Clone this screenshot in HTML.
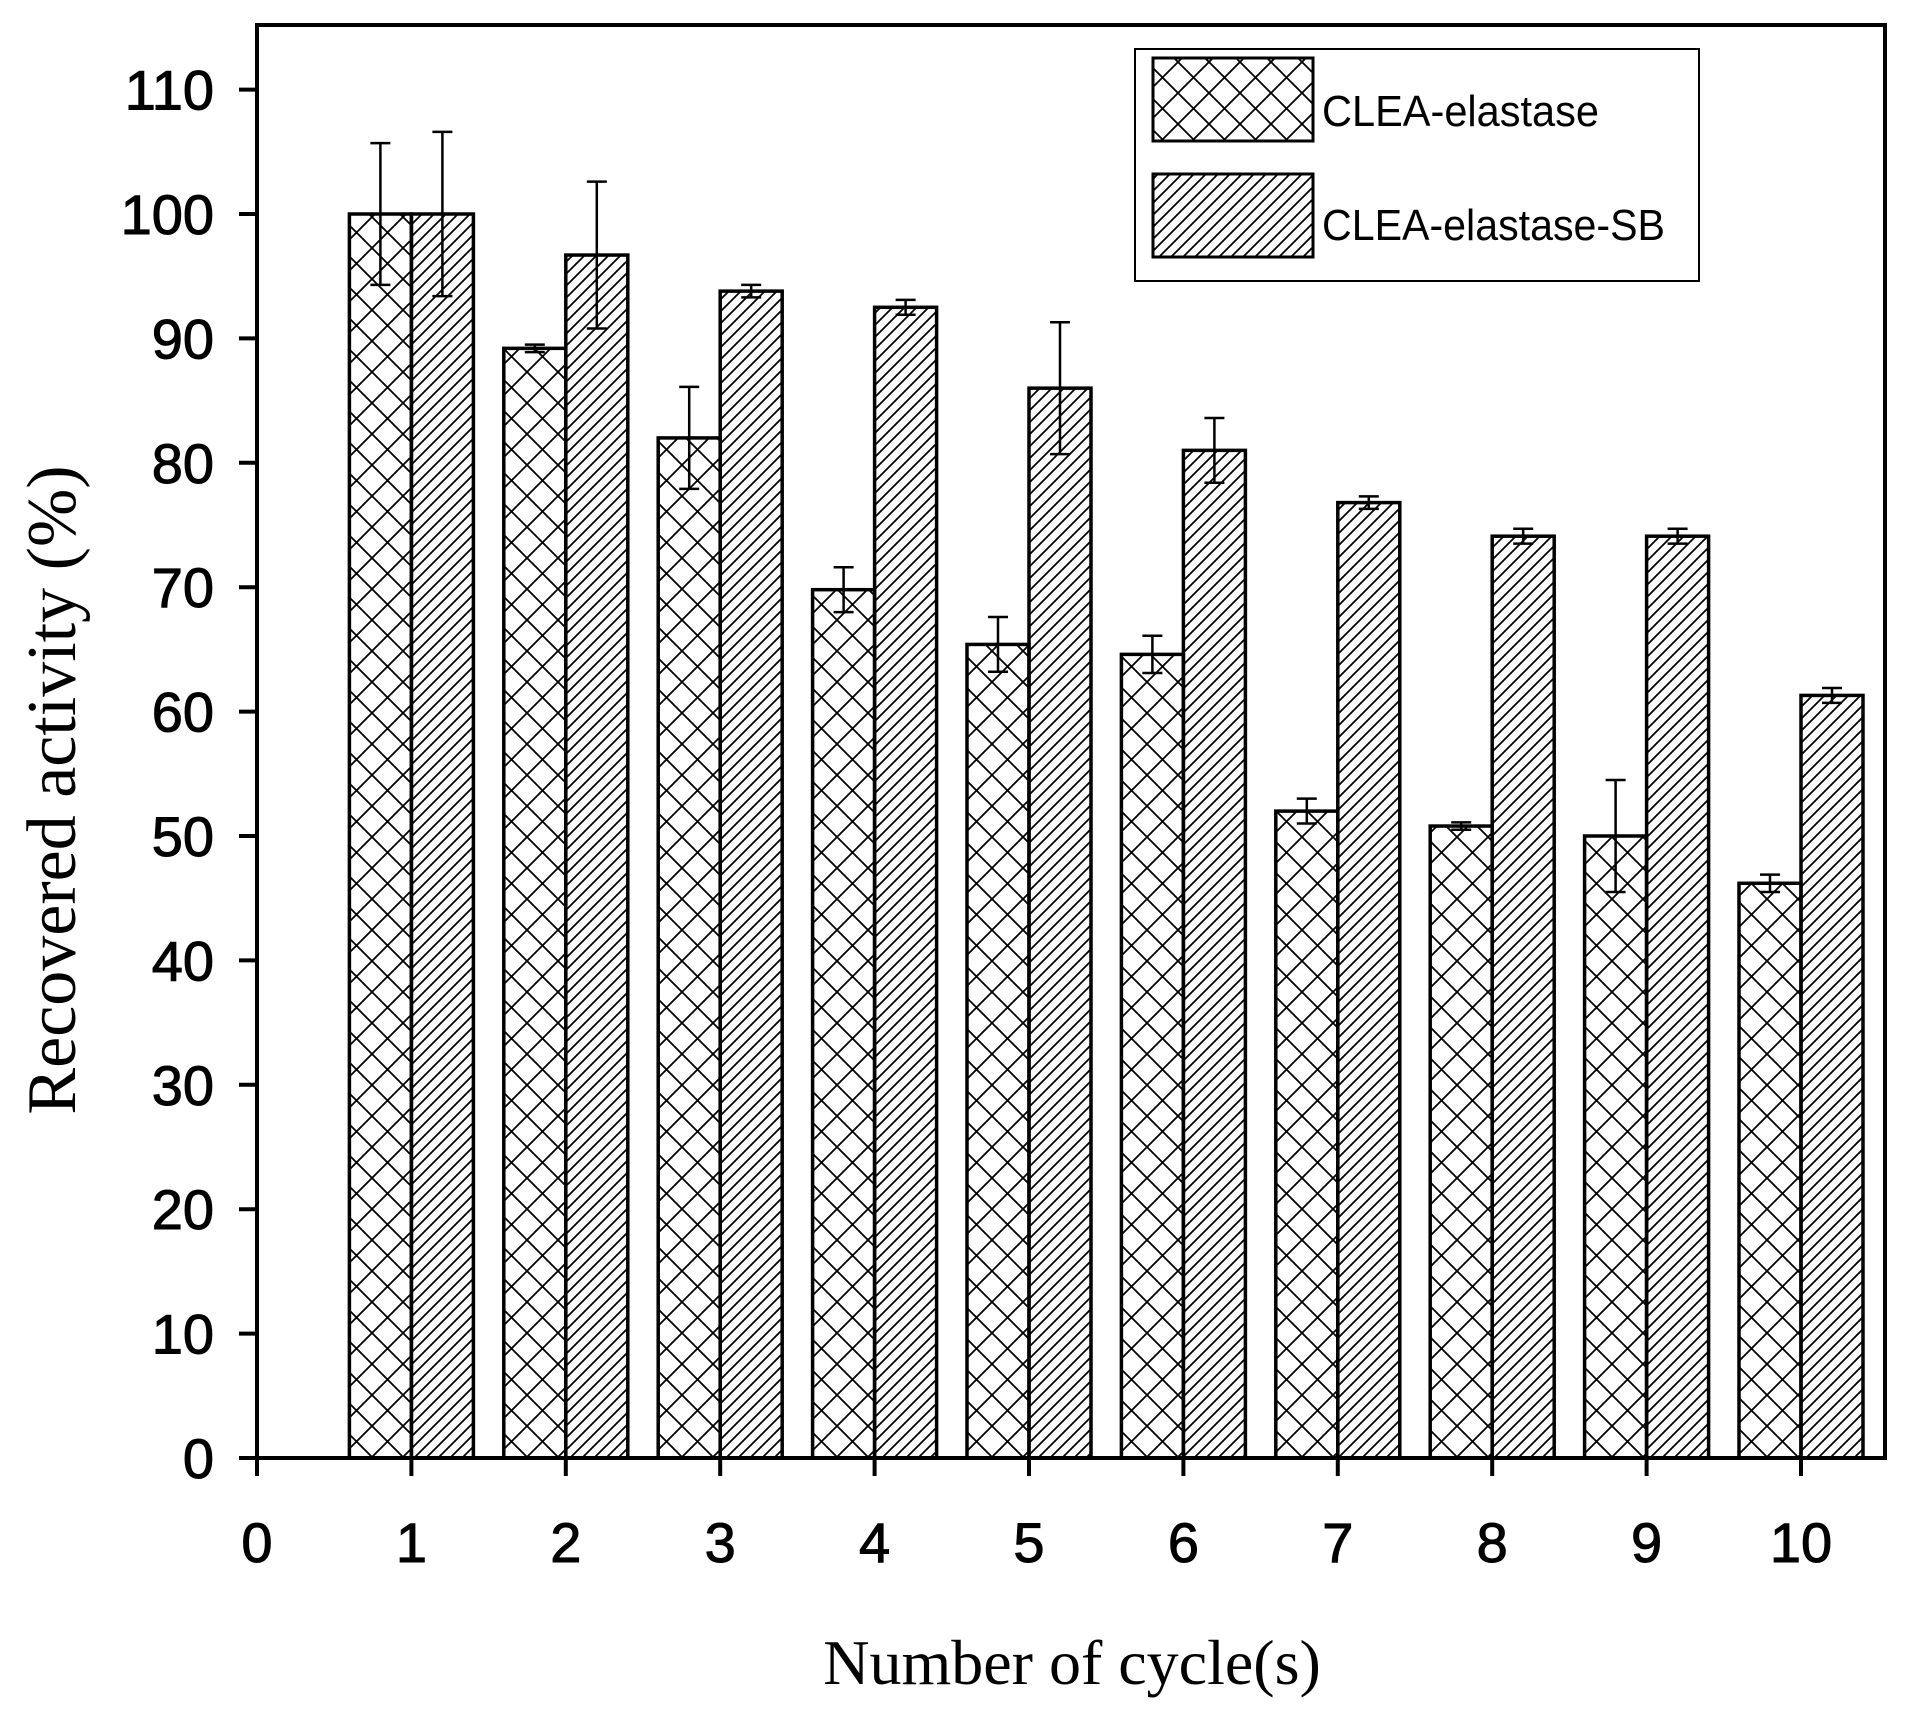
<!DOCTYPE html>
<html><head><meta charset="utf-8"><style>body{margin:0;background:#fff}svg{display:block}</style></head>
<body>
<svg id="s" width="1912" height="1711" xmlns="http://www.w3.org/2000/svg">
<defs>
<pattern id="cross" patternUnits="userSpaceOnUse" width="31" height="31">
<path d="M0,0L31,31M31,0L0,31" stroke="#000" stroke-width="1.8" fill="none"/>
</pattern>
<pattern id="hatch" patternUnits="userSpaceOnUse" width="12" height="12">
<path d="M-3,3L3,-3M0,12L12,0M9,15L15,9" stroke="#000" stroke-width="1.8" fill="none"/>
</pattern>
</defs>
<g id="g"></g>
</svg>
<script>
const g=document.getElementById('g');let h='';
const L=257,R=1885,T=25,Y0=1458,per=12.44,xu=154.4;
const y=v=>Y0-v*per, x=c=>L+c*xu;
const d=[[100,5.7,100,6.6],[89.2,0.3,96.7,5.9],[82,4.1,93.8,0.5],[69.8,1.8,92.5,0.6],[65.4,2.2,86,5.3],[64.6,1.5,81,2.6],[52,1,76.8,0.5],[50.8,0.3,74.1,0.6],[50,4.5,74.1,0.6],[46.2,0.7,61.3,0.6]];
d.forEach((r,i)=>{const cx=x(i+1),w=62;
[[cx-w,r[0],r[1],'cross'],[cx,r[2],r[3],'hatch']].forEach(([bx,v,e,p])=>{
h+=`<rect x="${bx}" y="${y(v)}" width="${w}" height="${Y0-y(v)}" fill="url(#${p})" stroke="#000" stroke-width="3.5"/>`;
const m=bx+w/2;h+=`<path d="M${m},${y(v+e)}V${y(v-e)}M${m-10},${y(v+e)}H${m+10}M${m-10},${y(v-e)}H${m+10}" stroke="#000" stroke-width="2.5" fill="none"/>`;});});
h+=`<rect x="${L}" y="${T}" width="${R-L}" height="${Y0-T}" fill="none" stroke="#000" stroke-width="4"/>`;
for(let v=0;v<=110;v+=10){h+=`<line x1="${L-18}" x2="${L}" y1="${y(v)}" y2="${y(v)}" stroke="#000" stroke-width="4"/><text x="214" y="${y(v)+20}" text-anchor="end" font-family="Liberation Sans,sans-serif" font-size="56" stroke="#000" stroke-width="1">${v}</text>`;}
for(let c=0;c<=10;c++){h+=`<line x1="${x(c)}" x2="${x(c)}" y1="${Y0}" y2="${Y0+18}" stroke="#000" stroke-width="4"/><text x="${x(c)}" y="1562" text-anchor="middle" font-family="Liberation Sans,sans-serif" font-size="56" stroke="#000" stroke-width="1">${c}</text>`;}
h+=`<text x="1072" y="1684" text-anchor="middle" font-family="Liberation Serif,serif" font-size="64">Number of cycle(s)</text>`;
h+=`<text transform="translate(75,790) rotate(-90)" text-anchor="middle" font-family="Liberation Serif,serif" font-size="70">Recovered activity (%)</text>`;
h+=`<rect x="1135" y="49" width="564" height="232" fill="#fff" stroke="#000" stroke-width="2"/>`;
h+=`<rect x="1153" y="58" width="160" height="83" fill="url(#cross)" stroke="#000" stroke-width="3"/>`;
h+=`<rect x="1153" y="174" width="160" height="83" fill="url(#hatch)" stroke="#000" stroke-width="3"/>`;
h+=`<text x="1322" y="126" font-family="Liberation Sans,sans-serif" font-size="44" textLength="277" lengthAdjust="spacingAndGlyphs">CLEA-elastase</text>`;
h+=`<text x="1322" y="240" font-family="Liberation Sans,sans-serif" font-size="44" textLength="343" lengthAdjust="spacingAndGlyphs">CLEA-elastase-SB</text>`;
g.innerHTML=h;
</script>
</body></html>
